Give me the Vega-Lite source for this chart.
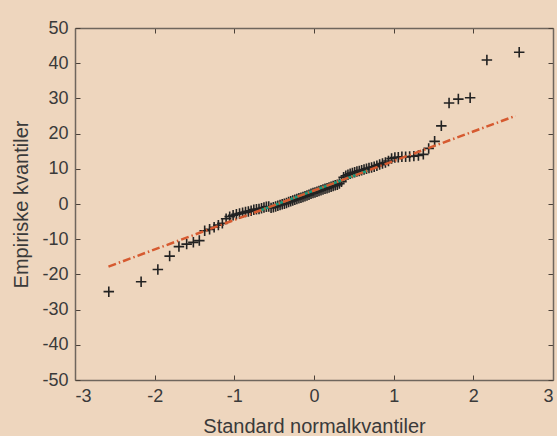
{
  "$schema": "https://vega.github.io/schema/vega-lite/v6.json",
  "width": 478,
  "height": 352,
  "autosize": {"type": "none"},
  "padding": {"left": 75, "top": 28, "right": 4, "bottom": 56},
  "background": "#eed6be",
  "config": {
    "view": {"stroke": null},
    "axis": {
      "grid": false,
      "domainColor": "#6f665d",
      "domainWidth": 1.5,
      "tickColor": "#4a4038",
      "tickWidth": 1,
      "tickSize": -5,
      "labelFont": "Liberation Sans",
      "labelFontSize": 18,
      "labelColor": "#3a3a3a",
      "labelExpr": "datum.value < 0 ? '-' + abs(datum.value) : '' + datum.value",
      "titleFont": "Liberation Sans",
      "titleFontSize": 20,
      "titleFontWeight": "normal",
      "titleColor": "#3a3a3a"
    }
  },
  "datasets": {
    "pts": [
      {"q": -2.5758, "v": -24.9}, {"q": -2.1701, "v": -22.1}, {"q": -1.96, "v": -18.6}, {"q": -1.8119, "v": -14.8},
      {"q": -1.6954, "v": -12.1}, {"q": -1.5982, "v": -11.4}, {"q": -1.5141, "v": -10.9}, {"q": -1.4395, "v": -10.4},
      {"q": -1.3722, "v": -7.6}, {"q": -1.3106, "v": -7.2}, {"q": -1.2536, "v": -6.6}, {"q": -1.2004, "v": -6.0},
      {"q": -1.1503, "v": -5.5}, {"q": -1.1031, "v": -4.2}, {"q": -1.0581, "v": -3.6}, {"q": -1.0152, "v": -3.2},
      {"q": -0.9741, "v": -2.9}, {"q": -0.9346, "v": -2.7}, {"q": -0.8965, "v": -2.5}, {"q": -0.8596, "v": -2.3},
      {"q": -0.8239, "v": -2.1}, {"q": -0.7892, "v": -1.9}, {"q": -0.7554, "v": -1.6}, {"q": -0.7225, "v": -1.5},
      {"q": -0.6903, "v": -1.4}, {"q": -0.6588, "v": -1.2}, {"q": -0.628, "v": -1.0}, {"q": -0.5978, "v": -0.8},
      {"q": -0.5681, "v": -0.7}, {"q": -0.5388, "v": -1.1}, {"q": -0.5101, "v": -0.9}, {"q": -0.4817, "v": -0.7},
      {"q": -0.4538, "v": -0.5}, {"q": -0.4261, "v": -0.3}, {"q": -0.3989, "v": -0.1}, {"q": -0.3719, "v": 0.1},
      {"q": -0.3451, "v": 0.3}, {"q": -0.3186, "v": 0.6}, {"q": -0.2924, "v": 0.8}, {"q": -0.2663, "v": 1.0},
      {"q": -0.2404, "v": 1.2}, {"q": -0.2147, "v": 1.4}, {"q": -0.1891, "v": 1.6}, {"q": -0.1637, "v": 1.8},
      {"q": -0.1383, "v": 2.0}, {"q": -0.113, "v": 2.2}, {"q": -0.0878, "v": 2.4}, {"q": -0.0627, "v": 2.6},
      {"q": -0.0376, "v": 2.9}, {"q": -0.0125, "v": 3.1}, {"q": 0.0125, "v": 3.3}, {"q": 0.0376, "v": 3.5},
      {"q": 0.0627, "v": 3.7}, {"q": 0.0878, "v": 3.9}, {"q": 0.113, "v": 4.1}, {"q": 0.1383, "v": 4.3},
      {"q": 0.1637, "v": 4.5}, {"q": 0.1891, "v": 4.7}, {"q": 0.2147, "v": 4.9}, {"q": 0.2404, "v": 5.1},
      {"q": 0.2663, "v": 5.3}, {"q": 0.2924, "v": 5.5}, {"q": 0.3186, "v": 5.8}, {"q": 0.3451, "v": 6.3},
      {"q": 0.3719, "v": 7.6}, {"q": 0.3989, "v": 8.0}, {"q": 0.4261, "v": 8.3}, {"q": 0.4538, "v": 8.6},
      {"q": 0.4817, "v": 8.8}, {"q": 0.5101, "v": 9.0}, {"q": 0.5388, "v": 9.2}, {"q": 0.5681, "v": 9.4},
      {"q": 0.5978, "v": 9.6}, {"q": 0.628, "v": 9.8}, {"q": 0.6588, "v": 10.0}, {"q": 0.6903, "v": 10.2},
      {"q": 0.7225, "v": 10.4}, {"q": 0.7554, "v": 10.6}, {"q": 0.7892, "v": 10.9}, {"q": 0.8239, "v": 11.2},
      {"q": 0.8596, "v": 11.5}, {"q": 0.8965, "v": 11.8}, {"q": 0.9346, "v": 12.2}, {"q": 0.9741, "v": 12.9},
      {"q": 1.0152, "v": 13.2}, {"q": 1.0581, "v": 13.3}, {"q": 1.1031, "v": 13.4}, {"q": 1.1503, "v": 13.4},
      {"q": 1.2004, "v": 13.5}, {"q": 1.2536, "v": 13.6}, {"q": 1.3106, "v": 13.8}, {"q": 1.3722, "v": 14.1},
      {"q": 1.4395, "v": 15.8}, {"q": 1.5141, "v": 17.8}, {"q": 1.5982, "v": 22.2}, {"q": 1.6954, "v": 28.7},
      {"q": 1.8119, "v": 29.8}, {"q": 1.96, "v": 30.2}, {"q": 2.1701, "v": 40.9}, {"q": 2.5758, "v": 43.1}
    ],
    "iqr": [{"q": -0.6745, "v": -1.81}, {"q": 0.6745, "v": 9.49}],
    "ref": [{"q": -2.58, "v": -17.78}, {"q": 2.53, "v": 25.04}]
  },
  "layer": [
    {
      "data": {"name": "pts"},
      "mark": {"type": "point", "shape": "M-1,0L1,0M0,-1L0,1", "size": 110, "filled": false, "stroke": "#222222", "strokeWidth": 1.6, "opacity": 1},
      "encoding": {
        "x": {"field": "q", "type": "quantitative", "scale": {"domain": [-3, 3], "nice": false, "zero": false},
              "axis": {"orient": "bottom", "values": [-3, -2, -1, 0, 1, 2, 3], "title": "Standard normalkvantiler", "labelPadding": 12, "titlePadding": 11}},
        "y": {"field": "v", "type": "quantitative", "scale": {"domain": [-50, 50], "nice": false, "zero": false},
              "axis": {"orient": "left", "values": [-50, -40, -30, -20, -10, 0, 10, 20, 30, 40, 50], "title": "Empiriske kvantiler", "labelPadding": 12, "titlePadding": 10}}
      }
    },
    {
      "data": {"name": "iqr"},
      "mark": {"type": "line", "color": "#1a9a7c", "strokeWidth": 2.5},
      "encoding": {
        "x": {"field": "q", "type": "quantitative", "scale": {"domain": [-3, 3], "nice": false, "zero": false}, "axis": null},
        "y": {"field": "v", "type": "quantitative", "scale": {"domain": [-50, 50], "nice": false, "zero": false}, "axis": null}
      }
    },
    {
      "data": {"name": "ref"},
      "mark": {"type": "line", "color": "#d65a30", "strokeWidth": 2.5, "strokeDash": [8, 3, 1.5, 3]},
      "encoding": {
        "x": {"field": "q", "type": "quantitative", "scale": {"domain": [-3, 3], "nice": false, "zero": false}, "axis": null},
        "y": {"field": "v", "type": "quantitative", "scale": {"domain": [-50, 50], "nice": false, "zero": false}, "axis": null}
      }
    },
    {
      "data": {"name": "ref"},
      "mark": {"type": "point", "opacity": 0},
      "encoding": {
        "x": {"field": "q", "type": "quantitative", "scale": {"domain": [-3, 3], "nice": false, "zero": false},
              "axis": {"orient": "top", "values": [-3, -2, -1, 0, 1, 2, 3], "labels": false, "title": null}},
        "y": {"field": "v", "type": "quantitative", "scale": {"domain": [-50, 50], "nice": false, "zero": false},
              "axis": {"orient": "right", "values": [-50, -40, -30, -20, -10, 0, 10, 20, 30, 40, 50], "labels": false, "title": null}}
      }
    }
  ],
  "resolve": {"scale": {"x": "independent", "y": "independent"}}
}
